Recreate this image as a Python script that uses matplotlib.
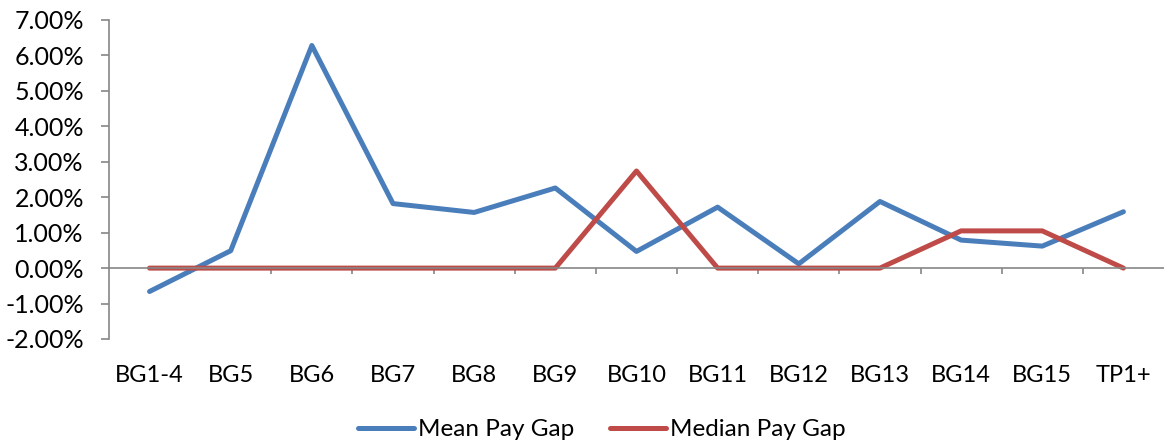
import matplotlib
matplotlib.use("Agg")
import matplotlib.pyplot as plt
from matplotlib.ticker import FuncFormatter, FixedLocator

categories = ["BG1-4", "BG5", "BG6", "BG7", "BG8", "BG9", "BG10",
              "BG11", "BG12", "BG13", "BG14", "BG15", "TP1+"]
mean_gap = [-0.66, 0.49, 6.28, 1.82, 1.57, 2.26, 0.47,
            1.72, 0.12, 1.88, 0.79, 0.62, 1.59]
median_gap = [0.0, 0.0, 0.0, 0.0, 0.0, 0.0, 2.74,
              0.0, 0.0, 0.0, 1.05, 1.05, 0.0]

plt.rcParams["font.family"] = ["Lato", "DejaVu Sans"]

fig = plt.figure(figsize=(11.64, 4.44), dpi=100)
ax = fig.add_axes([0.0936, 0.2365, 0.9064, 0.7185])

x = list(range(len(categories)))
ax.plot(x, mean_gap, color="#4A7EBB", lw=3.6, solid_capstyle="round",
        solid_joinstyle="round", label="Mean Pay Gap")
ax.plot(x, median_gap, color="#BE4B48", lw=3.6, solid_capstyle="round",
        solid_joinstyle="round", label="Median Pay Gap")

ax.set_xlim(-0.5, len(categories) - 0.5)
ax.set_ylim(-2, 7)
ax.set_yticks(range(-2, 8))
ax.yaxis.set_major_formatter(FuncFormatter(lambda v, _: f"{v:.2f}%"))

for s in ("top", "right"):
    ax.spines[s].set_visible(False)
ax.spines["left"].set_color("#868686")
ax.spines["left"].set_linewidth(1.2)
ax.spines["bottom"].set_position(("data", 0))
ax.spines["bottom"].set_color("#868686")
ax.spines["bottom"].set_linewidth(1.2)

ax.tick_params(axis="y", direction="out", length=6, width=1.2,
               color="#868686", labelsize=18, pad=12)
ax.set_xticks(x)
ax.set_xticklabels(categories)
ax.tick_params(axis="x", which="major", length=0, labelsize=17, pad=70)
ax.xaxis.set_minor_locator(FixedLocator([i + 0.5 for i in range(len(categories) - 1)]))
ax.tick_params(axis="x", which="minor", direction="out", length=4,
               width=1.2, color="#868686")

leg = fig.legend(loc="center", bbox_to_anchor=(0.517, 0.032), ncol=2,
                 frameon=False, fontsize=17.5, handlelength=2.3,
                 columnspacing=1.5, handletextpad=0.15,
                 borderpad=0, borderaxespad=0)

fig.savefig("out.png", dpi=100)
